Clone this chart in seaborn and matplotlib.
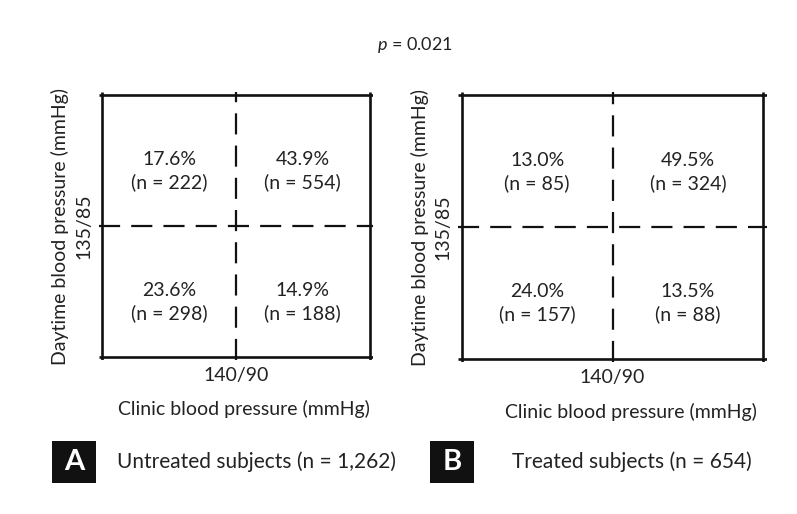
import matplotlib
matplotlib.use("Agg")
import matplotlib.pyplot as plt
from matplotlib.patches import Rectangle
import numpy as np
import pandas as pd
import seaborn as sns

# Values
clinic_cut = "140/90"
daytime_cut = "135/85"
quadrants = ["low/high", "high/high", "low/low", "high/low"]  # clinic/daytime, read left-right, top-bottom
untreated_pct = [17.6, 43.9, 23.6, 14.9]
untreated_n = [222, 554, 298, 188]
treated_pct = [13.0, 49.5, 24.0, 13.5]
treated_n = [85, 324, 157, 88]
untreated_total = "1,262"
treated_total = "654"
p_value = 0.021

sns.set_theme(style="white")
plt.rcParams["font.family"] = ["Lato", "DejaVu Sans"]
plt.rcParams["mathtext.fontset"] = "custom"
plt.rcParams["mathtext.it"] = "Lato:italic"
plt.rcParams["mathtext.rm"] = "Lato"

FS = 14
PAD = 0.025
INK = "#222222"


def draw_panel(ax, pct, n):
    """2x2 classification grid drawn as a white heatmap with annotations."""
    grid = pd.DataFrame(np.array(pct).reshape(2, 2))
    labels = np.array([f"{p:.1f}%\n(n = {k})" for p, k in zip(pct, n)]).reshape(2, 2)
    sns.heatmap(grid, annot=labels, fmt="", cmap=matplotlib.colors.ListedColormap(["white"]),
                cbar=False, ax=ax, annot_kws={"fontsize": FS, "color": INK, "linespacing": 1.35})
    # nudge annotations slightly below the quadrant centres, as in the original
    for t in ax.texts:
        x, y = t.get_position()
        t.set_position((x, y + 0.08))
    ax.set_xlim(-PAD, 2 + PAD)
    ax.set_ylim(2 + PAD, -PAD)
    for v in (0, 2):
        ax.axvline(v, color="#111111", lw=1.9, solid_capstyle="butt")
        ax.axhline(v, color="#111111", lw=1.9, solid_capstyle="butt")
    ax.axvline(1, color="#111111", lw=1.6, ls=(0, (9.5, 5)))
    ax.axhline(1, color="#111111", lw=1.6, ls=(0, (9.5, 5)))
    for s in ax.spines.values():
        s.set_visible(False)
    ax.set_xticks([1])
    ax.set_xticklabels([clinic_cut], fontsize=FS, color=INK)
    ax.set_yticks([1])
    ax.set_yticklabels([daytime_cut], fontsize=FS, color=INK, rotation=90, va="center")
    ax.tick_params(length=0, pad=5)
    ax.set_xlabel("Clinic blood pressure (mmHg)", fontsize=FS, color=INK, labelpad=14)
    ax.set_ylabel("Daytime blood pressure (mmHg)", fontsize=FS, color=INK, labelpad=4)


fig = plt.figure(figsize=(7.97, 5.14), dpi=100)
ax_a = fig.add_axes([0.1242, 0.2996, 0.3438, 0.5214])
ax_b = fig.add_axes([0.5747, 0.2957, 0.3877, 0.5253])
draw_panel(ax_a, untreated_pct, untreated_n)
draw_panel(ax_b, treated_pct, treated_n)
ax_a.xaxis.set_label_coords(0.53, -0.15)
ax_b.xaxis.set_label_coords(0.56, -0.15)

fig.text(0.521, 0.912, f"$p$ = {p_value}", fontsize=FS - 1, ha="center", va="center", color=INK)

W, H = 797, 514
for (x0, label, tx, caption) in [(52, "A", 117, f"Untreated subjects (n = {untreated_total})"),
                                   (430, "B", 512, f"Treated subjects (n = {treated_total})")]:
    fig.patches.append(Rectangle((x0 / W, 1 - 483 / H), 44 / W, 42 / H, transform=fig.transFigure,
                                 facecolor="#111111", edgecolor="none"))
    fig.text((x0 + 22) / W, 1 - 462 / H, label, fontsize=21, color="white", weight="bold",
             ha="center", va="center")
    fig.text(tx / W, 1 - 462 / H, caption, fontsize=FS + 1, color=INK, ha="left", va="center")

fig.savefig("out.png", dpi=100, facecolor="white")
